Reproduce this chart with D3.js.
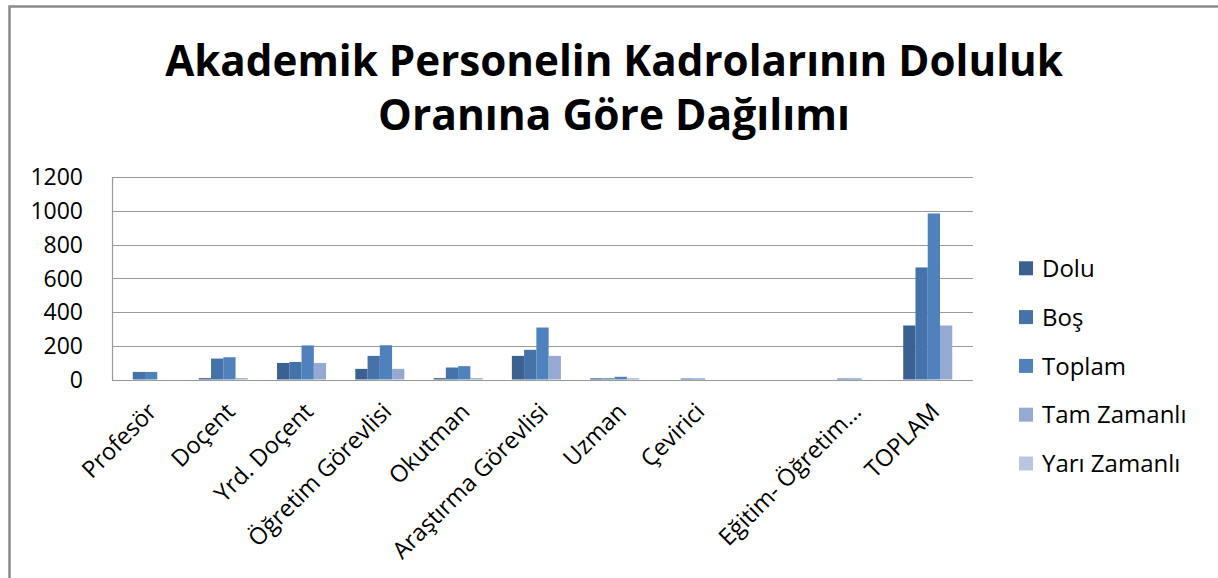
<!DOCTYPE html>
<html>
<head>
<meta charset="utf-8">
<script src="https://cdn.jsdelivr.net/npm/d3@7"></script>
<style>
  html, body { margin: 0; padding: 0; background: #fff; }
  svg { display: block; }
  text { font-family: "Open Sans", "DejaVu Sans", sans-serif; fill: #000; }
</style>
</head>
<body>
<svg id="chart" width="1218" height="578"></svg>
<script>
// ---- Data ----
const titleLines = ["Akademik Personelin Kadrolarının Doluluk", "Oranına Göre Dağılımı"];
const categories = ["Profesör", "Doçent", "Yrd. Doçent", "Öğretim Görevlisi", "Okutman",
  "Araştırma Görevlisi", "Uzman", "Çevirici", "", "Eğitim- Öğretim…", "TOPLAM"];
const seriesNames = ["Dolu", "Boş", "Toplam", "Tam Zamanlı", "Yarı Zamanlı"];
const dolu        = [0,   8,  98,  63,  8, 140,  7, 0, 0, 0, 320];
const bos         = [45, 124, 104, 140, 71, 176,  7, 6, 0, 6, 664];
const toplam      = [45, 132, 202, 203, 79, 308, 16, 6, 0, 6, 984];
const tamZamanli  = [0,   8,  98,  63,  8, 140,  7, 0, 0, 0, 320];
const yariZamanli = [0,   0,   0,   0,  0,   0,  0, 0, 0, 0, 0];
const yTicks = [0, 200, 400, 600, 800, 1000, 1200];
const colors = ["#3B6192", "#4572A9", "#4F81BD", "#95A9D1", "#B9C6E0"];

const seriesValues = [dolu, bos, toplam, tamZamanli, yariZamanli];

const svg = d3.select("#chart");

// Chart border
svg.append("rect")
  .attr("x", 9.5).attr("y", 6.5)
  .attr("width", 1240).attr("height", 620)
  .attr("fill", "#fff")
  .attr("stroke", "#8a8a8a").attr("stroke-width", 2.5);

// Plot area
const plot = { left: 112, right: 973, top: 177, bottom: 379.5 };

const x = d3.scaleBand()
  .domain(d3.range(categories.length))
  .range([plot.left, plot.right])
  .paddingInner(0.217)
  .paddingOuter(0.1085);

const xs = d3.scaleBand()
  .domain(d3.range(seriesNames.length))
  .range([0, x.bandwidth()])
  .padding(0);

const y = d3.scaleLinear().domain([0, 1200]).range([plot.bottom, plot.top]);

// Gridlines
svg.append("g")
  .selectAll("line")
  .data(yTicks)
  .join("line")
  .attr("x1", plot.left).attr("x2", plot.right)
  .attr("y1", d => Math.round(y(d)) + 0.5).attr("y2", d => Math.round(y(d)) + 0.5)
  .attr("stroke", "#9a9a9a").attr("stroke-width", 1.2);

// Y axis line
svg.append("line")
  .attr("x1", plot.left + 0.5).attr("x2", plot.left + 0.5)
  .attr("y1", y(1200)).attr("y2", y(0) + 1)
  .attr("stroke", "#9a9a9a").attr("stroke-width", 1.2);

// Y tick labels
svg.append("g")
  .selectAll("text")
  .data(yTicks)
  .join("text")
  .attr("x", 83)
  .attr("y", d => y(d))
  .attr("dy", "0.36em")
  .attr("text-anchor", "end")
  .attr("font-size", 23)
  .text(d => d);

// Bars
const groups = svg.append("g")
  .selectAll("g")
  .data(categories.map((c, i) => i))
  .join("g")
  .attr("transform", i => `translate(${x(i)},0)`);

groups.selectAll("rect")
  .data(i => seriesValues.map((vals, s) => ({ s, v: vals[i] })))
  .join("rect")
  .attr("x", d => xs(d.s))
  .attr("width", xs.bandwidth())
  .attr("y", d => y(d.v))
  .attr("height", d => y(0) - y(d.v))
  .attr("fill", d => colors[d.s]);

// X axis line (on top of bars)
svg.append("line")
  .attr("x1", plot.left).attr("x2", plot.right)
  .attr("y1", Math.round(y(0)) + 0.5).attr("y2", Math.round(y(0)) + 0.5)
  .attr("stroke", "#9a9a9a").attr("stroke-width", 1.2);

// X labels rotated
svg.append("g")
  .selectAll("text")
  .data(categories.map((c, i) => ({ c, i })))
  .join("text")
  .attr("transform", d => `translate(${x(d.i) + x.bandwidth() / 2 + 7},413) rotate(-45)`)
  .attr("text-anchor", "end")
  .attr("font-size", 23.5)
  .text(d => d.c);

// Legend
const legend = svg.append("g")
  .selectAll("g")
  .data(seriesNames.map((n, i) => ({ n, i })))
  .join("g")
  .attr("transform", d => `translate(1019,${268.3 + d.i * 48.8})`);

legend.append("rect")
  .attr("x", 0).attr("y", -7)
  .attr("width", 14).attr("height", 14)
  .attr("fill", d => colors[d.i]);

legend.append("text")
  .attr("x", 23).attr("y", 0).attr("dy", "0.36em")
  .attr("font-size", 24)
  .text(d => d.n);

// Title
const titleBaselines = [76, 130];
const titleTargets = [898, 472];
titleLines.forEach((t, k) => {
  const el = svg.append("text")
    .attr("x", 614).attr("y", titleBaselines[k])
    .attr("text-anchor", "middle")
    .attr("font-weight", "bold")
    .attr("font-size", 44)
    .text(t);
  const w = el.node().getComputedTextLength();
  if (w > 0) el.attr("font-size", 44 * titleTargets[k] / w);
});
</script>
</body>
</html>
